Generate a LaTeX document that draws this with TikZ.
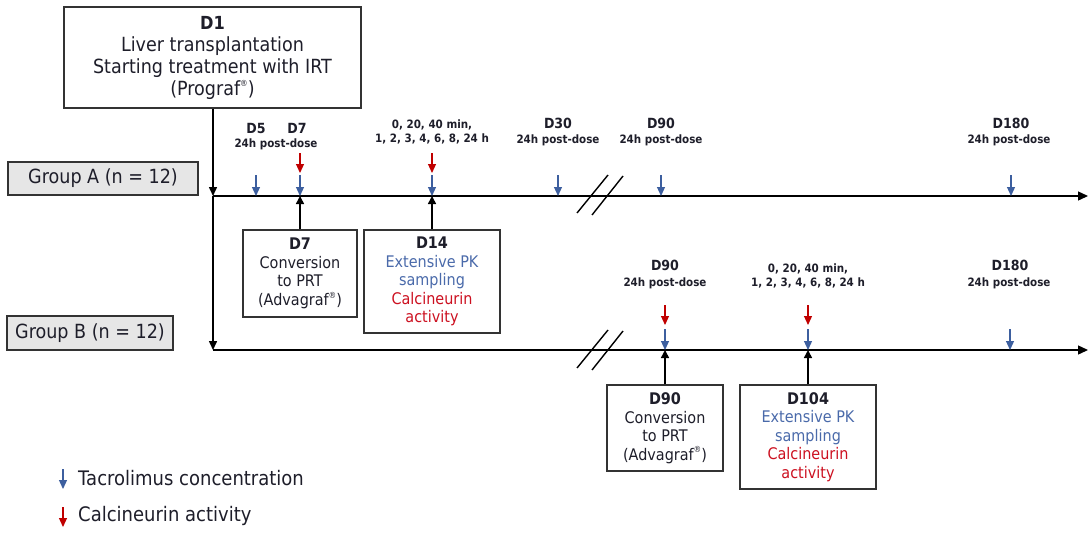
\documentclass[tikz,border=0pt]{standalone}
\usepackage{fontspec}
\setmainfont{DejaVu Sans}[FakeStretch=0.9]
\usetikzlibrary{arrows.meta}
\definecolor{tacblue}{HTML}{3D5F9F}
\definecolor{cnred}{HTML}{C00000}
\definecolor{txtblue}{HTML}{4A6AAA}
\definecolor{txtred}{HTML}{CC1020}
\definecolor{boxgray}{HTML}{E6E6E6}
\definecolor{edge}{HTML}{333333}
\definecolor{ink}{HTML}{1E1E2A}

\newcommand{\regmark}{\raisebox{0.45em}{\fontsize{8.5}{9}\selectfont\textregistered}}

\tikzset{
  bigtxt/.style={font=\fontsize{19.5}{22}\selectfont, text=ink},
  boxtxt/.style={font=\fontsize{16}{18.5}\selectfont, text=ink},
  framebox/.style={draw=edge, line width=1.3pt, inner sep=0pt, align=center},
  groupbox/.style={framebox, fill=boxgray, bigtxt},
  daylbl/.style={font=\bfseries\fontsize{14}{16}\selectfont, text=ink, inner sep=0pt},
  timelbl/.style={font=\bfseries\fontsize{11.5}{14}\selectfont, text=ink, inner sep=0pt, align=center},
  axisline/.style={line width=1.3pt, -{Triangle[width=9pt,length=10pt]}},
  uparrow/.style={line width=1.5pt, -{Triangle[width=8pt,length=8pt]}},
  downtip/.style={line width=1.5pt, -{Triangle[width=8pt,length=9pt]}},
  tacmark/.style={tacblue, line width=1.2pt, -{Triangle[width=8pt,length=9pt]}},
  cnmark/.style={cnred, line width=1.2pt, -{Triangle[width=8pt,length=9pt]}},
  breakmark/.style={line width=1.4pt},
}

\begin{document}
\begin{tikzpicture}[x=1pt,y=-1pt]
\useasboundingbox (0,0) rectangle (1091,533);

% ---- start of treatment ----
\node[framebox, bigtxt, minimum width=297pt, minimum height=101pt] (d1) at (212.5,57.5)
  {{\bfseries\fontsize{18}{22}\selectfont D1}\\Liver transplantation\\Starting treatment with IRT\\(Prograf\regmark)};

% ---- group labels ----
\node[groupbox, minimum width=190pt, minimum height=33pt] (grpA) at (103,178.5) {Group A (n = 12)};
\node[groupbox, minimum width=166pt, minimum height=34pt] (grpB) at (90,333) {Group B (n = 12)};

% ---- time axes ----
\coordinate (aStart) at (213,196);
\coordinate (aEnd) at (1088,196);
\coordinate (bStart) at (213,350);
\coordinate (bEnd) at (1088,350);
\coordinate (aAbove) at (213,184);
\draw[axisline] (aStart) -- (aEnd);
\draw[axisline] (bStart) -- (bEnd);
\draw[line width=1.5pt] (d1.south -| aStart) -- (aAbove);
\draw[downtip] (aAbove) -- (aStart);
\draw[downtip] (aStart) -- (bStart);

% axis breaks
\draw[breakmark] (577,213) -- (608,175);
\draw[breakmark] (592,215) -- (623,176);
\draw[breakmark] (577,368) -- (608,330);
\draw[breakmark] (592,370) -- (623,331);

% ---- group A: sampling marks ----
\foreach \x in {256,300,432,558,661,1011}
  \draw[tacmark] (\x,175) -- (\x,196);
\foreach \x in {300,432}
  \draw[cnmark] (\x,153) -- (\x,173);

\node[daylbl] (a5) at (256,128) {D5};
\node[daylbl] (a7) at (297,128) {D7};
\node[timelbl] (a7t) at (276,144.5) {24h post-dose};
\node[timelbl] (a14t) at (432,132) {0, 20, 40 min,\\1, 2, 3, 4, 6, 8, 24 h};
\node[daylbl] (a30) at (558,123) {D30};
\node[timelbl] (a30t) at (558,140) {24h post-dose};
\node[daylbl] (a90) at (661,123) {D90};
\node[timelbl] (a90t) at (661,140) {24h post-dose};
\node[daylbl] (a180) at (1011,123) {D180};
\node[timelbl] (a180t) at (1009,140) {24h post-dose};

% ---- group A: events ----
\node[framebox, boxtxt, minimum width=114pt, minimum height=87pt] (convA) at (300,273.5)
  {{\bfseries D7}\\Conversion\\to PRT\\(Advagraf\regmark)};
\node[framebox, boxtxt, minimum width=136pt, minimum height=103pt] (pkA) at (432,281.5)
  {{\bfseries D14}\\\textcolor{txtblue}{Extensive PK}\\\textcolor{txtblue}{sampling}\\\textcolor{txtred}{Calcineurin}\\\textcolor{txtred}{activity}};
\draw[uparrow] (convA.north) -- (convA.north |- aStart);
\draw[uparrow] (pkA.north) -- (pkA.north |- aStart);

% ---- group B: sampling marks ----
\foreach \x in {665,808,1010}
  \draw[tacmark] (\x,329) -- (\x,350);
\foreach \x in {665,808}
  \draw[cnmark] (\x,305) -- (\x,325);

\node[daylbl] (b90) at (665,265) {D90};
\node[timelbl] (b90t) at (665,283) {24h post-dose};
\node[timelbl] (b104t) at (808,276) {0, 20, 40 min,\\1, 2, 3, 4, 6, 8, 24 h};
\node[daylbl] (b180) at (1010,265) {D180};
\node[timelbl] (b180t) at (1009,283) {24h post-dose};

% ---- group B: events ----
\node[framebox, boxtxt, minimum width=116pt, minimum height=86pt] (convB) at (665,428)
  {{\bfseries D90}\\Conversion\\to PRT\\(Advagraf\regmark)};
\node[framebox, boxtxt, minimum width=136pt, minimum height=104pt] (pkB) at (808,437)
  {{\bfseries D104}\\\textcolor{txtblue}{Extensive PK}\\\textcolor{txtblue}{sampling}\\\textcolor{txtred}{Calcineurin}\\\textcolor{txtred}{activity}};
\draw[uparrow] (convB.north) -- (convB.north |- bStart);
\draw[uparrow] (pkB.north) -- (pkB.north |- bStart);

% ---- legend ----
\coordinate (legT1) at (63,469);
\coordinate (legT2) at (63,489);
\coordinate (legC1) at (63,507);
\coordinate (legC2) at (63,527);
\draw[tacmark] (legT1) -- (legT2);
\draw[cnmark] (legC1) -- (legC2);
\node[bigtxt, anchor=west, inner sep=0pt, font=\fontsize{20}{22}\selectfont] (legT) at (78,478) {Tacrolimus concentration};
\node[bigtxt, anchor=west, inner sep=0pt, font=\fontsize{20}{22}\selectfont] (legC) at (78,516) {Calcineurin activity};
\end{tikzpicture}
\end{document}
